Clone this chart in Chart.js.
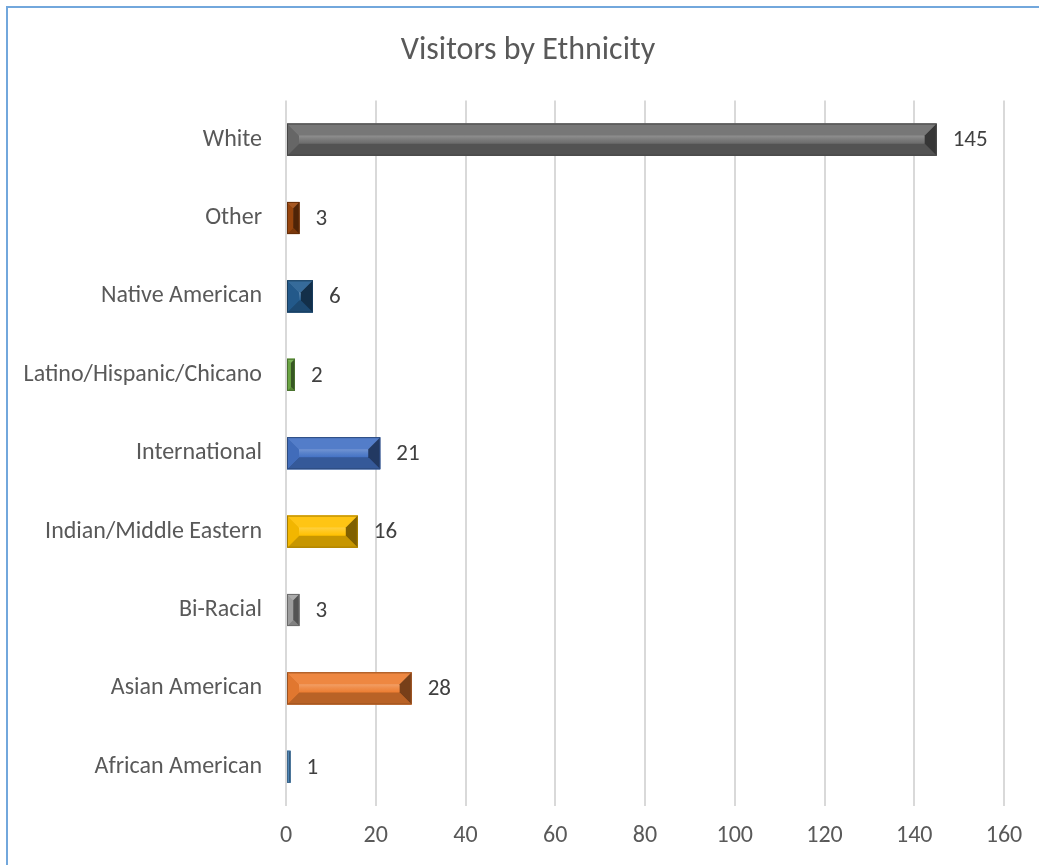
<!DOCTYPE html>
<html>
<head>
<meta charset="utf-8">
<script src="https://cdn.jsdelivr.net/npm/chart.js@4.4.1/dist/chart.umd.min.js"></script>
<style>
  html, body { margin: 0; padding: 0; background: #fff; overflow: hidden; }
  #wrap { position: relative; width: 1039px; height: 865px; }
  #frame {
    position: absolute; left: 6px; top: 6px; width: 1100px; height: 1000px;
    border: 2px solid #72a7dc; pointer-events: none;
  }
</style>
</head>
<body>
<div id="wrap">
  <canvas id="ethnicityChart" width="1039" height="865"></canvas>
  <div id="frame"></div>
</div>
<script>
const categories = ['White', 'Other', 'Native American', 'Latino/Hispanic/Chicano', 'International',
  'Indian/Middle Eastern', 'Bi-Racial', 'Asian American', 'African American'];
const visitors = [145, 3, 6, 2, 21, 16, 3, 28, 1];
const barColors = ['#6b6b6b', '#9e480e', '#255e91', '#70ad47', '#4472c4',
  '#ffc000', '#a5a5a5', '#ed7d31', '#5b9bd5'];
const xTicks = [0, 20, 40, 60, 80, 100, 120, 140, 160];

const fontFamily = "Carlito, 'Open Sans', sans-serif";

function mix(hex, target, amt) {
  const n = parseInt(hex.slice(1), 16);
  const r = (n >> 16) & 255, g = (n >> 8) & 255, b = n & 255;
  const t = target === 'white' ? 255 : 0;
  const f = c => Math.round(c + (t - c) * amt);
  return `rgb(${f(r)}, ${f(g)}, ${f(b)})`;
}

// draws the beveled look on top of each bar
const bevelPlugin = {
  id: 'bevel',
  afterDatasetsDraw(chart) {
    const ctx = chart.ctx;
    const meta = chart.getDatasetMeta(0);
    meta.data.forEach((bar, i) => {
      const p = bar.getProps(['x', 'y', 'base', 'height'], true);
      const left = Math.min(p.base, p.x), right = Math.max(p.base, p.x);
      const top = p.y - p.height / 2, bottom = p.y + p.height / 2;
      const w = right - left, h = bottom - top;
      const b = Math.min(12, w / 2, h / 2);
      const col = barColors[i];
      const poly = (pts, fill) => {
        ctx.beginPath();
        ctx.moveTo(pts[0][0], pts[0][1]);
        pts.slice(1).forEach(pt => ctx.lineTo(pt[0], pt[1]));
        ctx.closePath();
        ctx.fillStyle = fill;
        ctx.fill();
      };
      ctx.save();
      // center face
      const g = ctx.createLinearGradient(0, top + b, 0, bottom - b);
      g.addColorStop(0, mix(col, 'white', 0.25));
      g.addColorStop(0.45, mix(col, 'white', 0.12));
      g.addColorStop(1, col);
      ctx.fillStyle = g;
      ctx.fillRect(left, top, w, h);
      // top face
      poly([[left, top], [right, top], [right - b, top + b], [left + b, top + b]], mix(col, 'white', 0.08));
      // bottom face
      poly([[left, bottom], [right, bottom], [right - b, bottom - b], [left + b, bottom - b]], mix(col, 'black', 0.22));
      // left face
      poly([[left, top], [left + b, top + b], [left + b, bottom - b], [left, bottom]], mix(col, 'black', 0.05));
      // right face
      poly([[right, top], [right - b, top + b], [right - b, bottom - b], [right, bottom]], mix(col, 'black', 0.5));
      ctx.strokeStyle = mix(col, 'black', 0.35);
      ctx.lineWidth = 1;
      ctx.strokeRect(left + 0.5, top + 0.5, w - 1, h - 1);
      ctx.restore();
    });
  }
};

const valueLabels = {
  id: 'valueLabels',
  afterDatasetsDraw(chart) {
    const ctx = chart.ctx;
    const meta = chart.getDatasetMeta(0);
    ctx.save();
    ctx.font = `23px ${fontFamily}`;
    ctx.fillStyle = '#404040';
    ctx.textBaseline = 'middle';
    ctx.textAlign = 'left';
    meta.data.forEach((bar, i) => {
      ctx.fillText(String(visitors[i]), bar.x + 16, bar.y + 1);
    });
    ctx.restore();
  }
};

// title sits centred on the frame, not on the padded layout box
const shiftTitle = {
  id: 'shiftTitle',
  afterLayout(chart) {
    if (chart.titleBlock) chart.titleBlock.left = 52;
  }
};

const ctx = document.getElementById('ethnicityChart').getContext('2d');
new Chart(ctx, {
  type: 'bar',
  data: {
    labels: categories,
    datasets: [{
      label: 'Visitors',
      data: visitors,
      backgroundColor: barColors,
      borderWidth: 0,
      categoryPercentage: 1,
      barPercentage: 0.41
    }]
  },
  options: {
    indexAxis: 'y',
    responsive: false,
    animation: false,
    layout: { padding: { left: 0, right: 35, top: 0, bottom: 0 } },
    plugins: {
      legend: { display: false },
      tooltip: { enabled: false },
      title: {
        display: true,
        text: 'Visitors by Ethnicity',
        color: '#595959',
        font: { family: fontFamily, size: 32, weight: 'normal' },
        padding: { top: 32, bottom: 30 }
      }
    },
    scales: {
      x: {
        min: 0,
        max: 160,
        afterBuildTicks: scale => { scale.ticks = xTicks.map(v => ({ value: v })); },
        afterFit: scale => { scale.height = 59; },
        grid: { color: '#d9d9d9', lineWidth: 2, drawTicks: false },
        border: { display: false },
        ticks: { color: '#595959', padding: 16, font: { family: fontFamily, size: 24 } }
      },
      y: {
        afterFit: scale => { scale.width = 286; },
        grid: { display: false, drawTicks: false },
        border: { display: false },
        ticks: { color: '#595959', padding: 24, font: { family: fontFamily, size: 24 } }
      }
    }
  },
  plugins: [bevelPlugin, valueLabels, shiftTitle]
});
</script>
</body>
</html>
